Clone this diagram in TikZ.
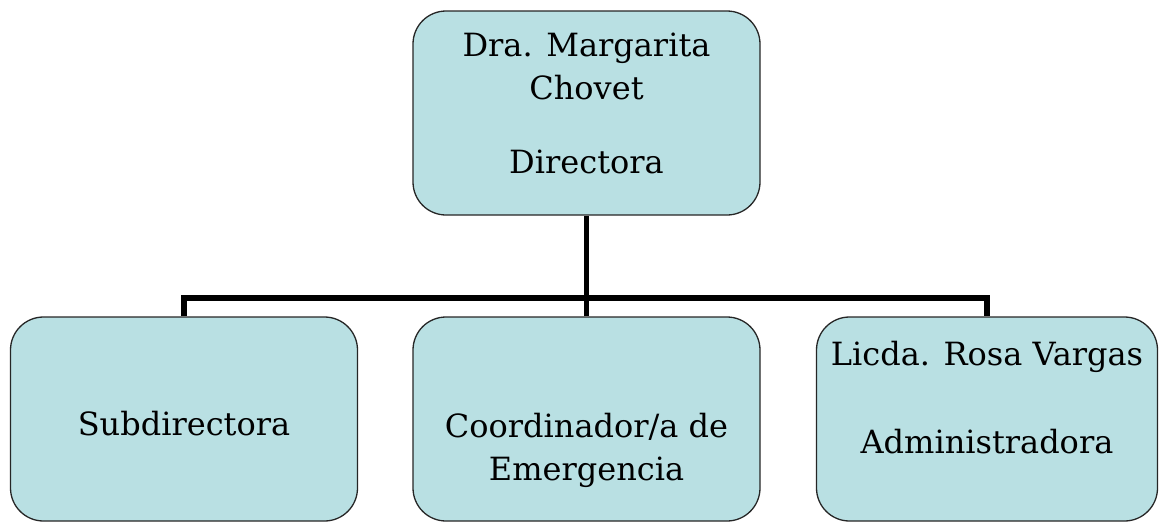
\documentclass[tikz,border=0pt]{standalone}
\usepackage{fontspec}
\setmainfont{DejaVu Serif}
\definecolor{boxfill}{RGB}{185,224,227}
\begin{document}
\begin{tikzpicture}[x=1pt,y=-1pt,
  orgbox/.style={draw=black!85, line width=1.3pt, fill=boxfill, rounded corners=33pt,
    minimum height=204pt, align=center, inner sep=0pt,
    font=\fontsize{32}{43}\selectfont},
  link/.style={line width=5.5pt}]
\useasboundingbox (0,0) rectangle (1159,523);
\node[orgbox, minimum width=347pt, text height=120pt, text depth=0pt] (dir) at (586.5,113)
  {Dra. Margarita\\Chovet\\[31pt]Directora};
\node[orgbox, minimum width=347pt, text height=32pt, text depth=0pt] (sub) at (184,419)
  {Subdirectora};
\node[orgbox, minimum width=347pt, text height=122pt, text depth=0pt] (coord) at (586.5,419)
  {Coordinador/a de\\Emergencia};
\node[orgbox, minimum width=341pt, text height=68pt, text depth=0pt] (adm) at (987,419)
  {Licda. Rosa Vargas\\[45pt]Administradora};
\coordinate (bus) at (586.5,298);
\draw[link](dir) -- (bus);
\draw[link](sub) |- (bus) -| (adm);
\draw[link](coord) -- (bus);
\end{tikzpicture}
\end{document}
